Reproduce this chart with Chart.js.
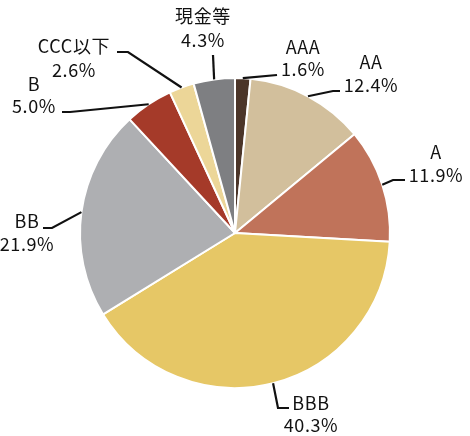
<!DOCTYPE html>
<html>
<head>
<meta charset="utf-8">
<script src="https://cdn.jsdelivr.net/npm/chart.js@4/dist/chart.umd.min.js"></script>
<style>
  html, body { margin: 0; padding: 0; background: #ffffff; }
  #wrap { width: 470px; height: 436px; position: relative; }
</style>
</head>
<body>
<div id="wrap"><canvas id="c" width="470" height="436"></canvas></div>
<script>
// ---- data ----
const categories = ['AAA', 'AA', 'A', 'BBB', 'BB', 'B', 'CCC以下', '現金等'];
const shares = [1.6, 12.4, 11.9, 40.3, 21.9, 5.0, 2.6, 4.3];
const shareLabels = ['1.6%', '12.4%', '11.9%', '40.3%', '21.9%', '5.0%', '2.6%', '4.3%'];
const sliceColors = ['#4b3529', '#d2bf9c', '#c0735a', '#e6c766', '#aeafb2', '#a53a29', '#ecd698', '#7e7f82'];

// ---- label layout (leader elbow, tail end, text centre, line positions) ----
const labelLayout = [
  { elbow: [277, 75],  tail: [277, 75],  tx: 303, ty: [47, 69] },
  { elbow: [333, 91],  tail: [340, 91],  tx: 371, ty: [62, 85] },
  { elbow: [393, 180], tail: [405, 180], tx: 436, ty: [152, 175] },
  { elbow: [278, 408], tail: [289, 408], tx: 311, ty: [403, 425] },
  { elbow: [52, 228],  tail: [43, 228],  tx: 27,  ty: [221, 244] },
  { elbow: [70, 112],  tail: [62, 112],  tx: 34,  ty: [84, 106] },
  { elbow: [128, 52],  tail: [117, 52],  tx: 74,  ty: [46, 70] },
  { elbow: [213, 55],  tail: [213, 55],  tx: 203, ty: [16, 40] }
];

const leaderPlugin = {
  id: 'leaders',
  afterDatasetsDraw(chart) {
    const ctx = chart.ctx;
    const meta = chart.getDatasetMeta(0);
    ctx.save();
    meta.data.forEach((arc, i) => {
      const p = arc.getProps(['x', 'y', 'startAngle', 'endAngle', 'outerRadius'], true);
      const mid = (p.startAngle + p.endAngle) / 2;
      const sx = p.x + Math.cos(mid) * p.outerRadius;
      const sy = p.y + Math.sin(mid) * p.outerRadius;
      const L = labelLayout[i];
      ctx.beginPath();
      ctx.strokeStyle = '#111111';
      ctx.lineWidth = 2.2;
      ctx.moveTo(sx, sy);
      ctx.lineTo(L.elbow[0], L.elbow[1]);
      ctx.lineTo(L.tail[0], L.tail[1]);
      ctx.stroke();

      ctx.fillStyle = '#111111';
      ctx.font = '18px "Noto Sans CJK JP", "Noto Sans", sans-serif';
      ctx.textAlign = 'center';
      ctx.textBaseline = 'middle';
      try { ctx.letterSpacing = '0.6px'; } catch (e) {}
      ctx.fillText(categories[i], L.tx, L.ty[0]);
      ctx.fillText(shareLabels[i], L.tx, L.ty[1]);
    });
    ctx.restore();
  }
};

new Chart(document.getElementById('c'), {
  type: 'pie',
  data: {
    labels: categories,
    datasets: [{
      data: shares,
      backgroundColor: sliceColors,
      borderColor: '#ffffff',
      borderWidth: 2
    }]
  },
  options: {
    responsive: false,
    animation: false,
    layout: { padding: { top: 77, bottom: 47, left: 0, right: 0 } },
    plugins: {
      legend: { display: false },
      tooltip: { enabled: false }
    }
  },
  plugins: [leaderPlugin]
});
</script>
</body>
</html>
